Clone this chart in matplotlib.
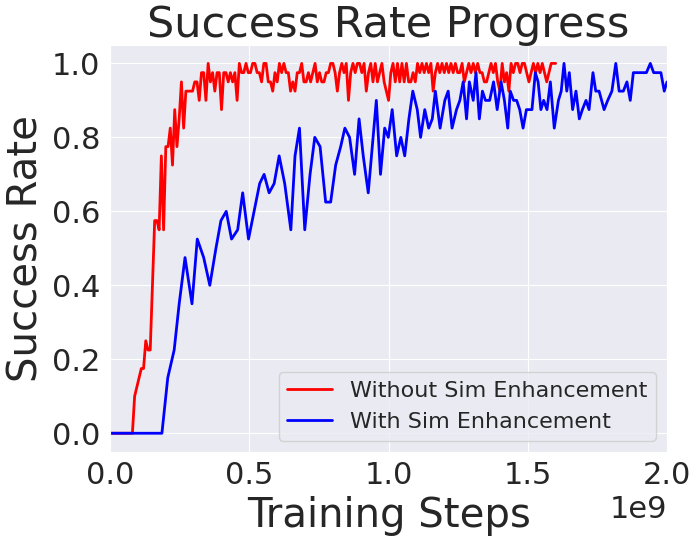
import numpy as np
import matplotlib
matplotlib.use("Agg")
import matplotlib.pyplot as plt
import seaborn as sns

sns.set_style("darkgrid")

# success rate without sim enhancement (evaluated every 8M steps, 0 .. 1.6e9)
red_rate = [
    0, 0, 0, 0, 0, 0, 0, 0, 0, 0, 0,
    0.1, 0.125, 0.15, 0.175, 0.175, 0.25, 0.225, 0.225, 0.4, 0.575,
    0.575, 0.55, 0.75, 0.55, 0.775, 0.775, 0.825, 0.725, 0.875, 0.775,
    0.85, 0.95, 0.825, 0.925, 0.925, 0.925, 0.925, 0.95, 0.95, 0.9,
    # plateau
    0.975, 0.975, 0.9, 1.0, 0.95, 0.975, 0.925, 0.975, 0.975, 0.875,
    0.975, 0.975, 0.95, 0.975, 0.95, 0.975, 0.9, 1.0, 0.975, 0.975,
    1.0, 0.975, 0.975, 1.0, 1.0, 0.975, 0.975, 0.95, 1.0, 1.0,
    0.95, 0.95, 0.925, 0.975, 0.95, 1.0, 0.975, 1.0, 0.975, 0.975,
    0.925, 0.95, 0.925, 0.975, 0.975, 1.0, 0.95, 0.95, 0.975, 0.95,
    0.975,
    1.0, 0.95, 0.975, 0.95, 0.95, 0.975, 0.975, 1.0, 1.0, 0.975,
    0.925, 0.975, 1.0, 0.975, 1.0, 0.9, 0.975, 1.0, 0.975, 1.0,
    1.0, 0.975, 1.0, 0.925, 0.975, 1.0, 0.95, 1.0, 0.95, 0.975,
    1.0, 0.95, 0.925, 0.9, 0.975, 1.0, 0.95, 1.0, 0.95, 1.0,
    0.95, 1.0, 0.95, 0.95, 0.975, 0.95, 1.0, 0.975, 1.0, 0.975,
    1.0, 0.975, 1.0, 0.925, 0.975, 1.0, 0.975, 1.0,
    0.975, 1.0, 0.975, 1.0, 0.975, 1.0, 0.975, 0.975, 1.0, 0.95,
    0.975, 1.0, 0.975, 1.0, 0.975, 1.0, 0.975, 0.975, 0.95, 0.95,
    0.975, 1.0, 0.975, 1.0, 0.95, 0.925, 1.0, 0.95, 0.975, 0.925,
    1.0, 0.975, 1.0, 1.0, 0.975, 1.0, 1.0, 0.975, 0.95, 0.975,
    1.0, 0.975, 1.0, 0.975, 1.0, 0.975, 0.95, 0.975, 1.0, 1.0, 1.0,
]
red_steps = np.linspace(0, 1.6e9, len(red_rate))

# with sim enhancement (steps in billions)
blue_steps = [
    0.0, 0.186, 0.207, 0.230, 0.248, 0.269, 0.294, 0.313, 0.336, 0.358,
    0.380, 0.398, 0.417, 0.436, 0.458, 0.476, 0.497, 0.517, 0.537, 0.553,
    0.571, 0.589, 0.607, 0.627, 0.649, 0.664, 0.680, 0.699, 0.718, 0.735,
    0.754, 0.774, 0.792, 0.810, 0.828, 0.843, 0.860, 0.878, 0.894, 0.909,
    0.927, 0.956, 0.971, 0.986, 0.999, 1.013, 1.029, 1.044, 1.058, 1.073,
    1.087, 1.103, 1.115, 1.130, 1.144, 1.157, 1.168, 1.185, 1.202, 1.214,
    1.228, 1.244, 1.256, 1.268, 1.280, 1.290, 1.304, 1.314, 1.326, 1.337,
    1.348, 1.363, 1.377, 1.390, 1.404, 1.416, 1.428, 1.437, 1.449, 1.460,
    1.471, 1.483, 1.495, 1.515, 1.527, 1.537, 1.547, 1.557, 1.569, 1.581,
    1.595, 1.610, 1.620, 1.630, 1.640, 1.649, 1.661, 1.673, 1.685, 1.696,
    1.709, 1.720, 1.734, 1.744, 1.756, 1.774, 1.787, 1.802, 1.816, 1.828,
    1.843, 1.856, 1.868, 1.879, 1.891, 1.903, 1.914, 1.926, 1.940, 1.952,
    1.965, 1.978, 1.990, 2.0,
]
blue_rate = [
    0.0, 0.0, 0.15, 0.225, 0.35, 0.475, 0.35, 0.525, 0.475, 0.4,
    0.5, 0.575, 0.6, 0.525, 0.55, 0.65, 0.525, 0.6, 0.675, 0.7,
    0.65, 0.675, 0.75, 0.675, 0.55, 0.75, 0.825, 0.55, 0.7, 0.8,
    0.775, 0.625, 0.625, 0.725, 0.775, 0.825, 0.8, 0.7, 0.85, 0.75,
    0.65, 0.9, 0.7, 0.825, 0.8, 0.875, 0.75, 0.8, 0.75, 0.85,
    0.925, 0.875, 0.8, 0.875, 0.825, 0.85, 0.925, 0.825, 0.9, 0.925,
    0.825, 0.875, 0.9, 0.95, 0.85, 0.95, 0.9, 0.975, 0.85, 0.925,
    0.9, 0.9, 0.95, 0.875, 0.95, 0.9, 0.825, 0.925, 0.9, 0.9,
    0.875, 0.825, 0.875, 0.875, 0.975, 0.95, 0.875, 0.9, 0.875, 0.95,
    0.825, 0.9, 0.925, 1.0, 0.925, 0.975, 0.875, 0.925, 0.85, 0.875,
    0.9, 0.875, 0.975, 0.925, 0.925, 0.875, 0.9, 0.925, 1.0, 0.925,
    0.925, 0.95, 0.9, 0.975, 0.975, 0.975, 0.975, 0.975, 1.0, 0.975,
    0.975, 0.975, 0.925, 0.95,
]

fig, ax = plt.subplots(figsize=(6.97, 5.41), dpi=100)
fig.subplots_adjust(left=0.158, right=0.957, top=0.917, bottom=0.165)

ax.plot(red_steps, red_rate, color="red", lw=2, label="Without Sim Enhancement")
ax.plot(np.array(blue_steps) * 1e9, blue_rate, color="blue", lw=2,
        label="With Sim Enhancement")

ax.set_xlim(0, 2.0e9)
ax.set_ylim(-0.05, 1.05)
ax.set_title("Success Rate Progress", fontsize=31)
ax.set_xlabel("Training Steps", fontsize=29)
ax.set_ylabel("Success Rate", fontsize=29)
ax.tick_params(labelsize=22)
ax.xaxis.get_offset_text().set_fontsize(22)
ax.legend(loc="lower right", fontsize=16)

plt.savefig("out.png", dpi=100)
